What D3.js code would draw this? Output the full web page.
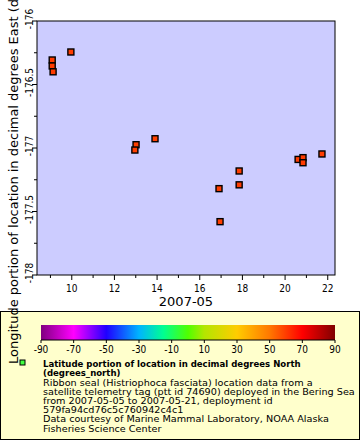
<!DOCTYPE html>
<html><head><meta charset="utf-8">
<script src="https://cdn.jsdelivr.net/npm/d3@7"></script>
<style>body{margin:0;background:#fff}svg{display:block}text{font-family:"DejaVu Sans",sans-serif}.cd{font-family:"DejaVu Sans Condensed","DejaVu Sans",sans-serif}</style>
</head><body><svg id="c" width="360" height="440"></svg>
<script>
// data
const times = ["2007-05-09T02:00Z","2007-05-09T02:00Z","2007-05-09T03:00Z","2007-05-09T23:00Z",
  "2007-05-13T00:20Z","2007-05-12T23:00Z","2007-05-13T21:40Z","2007-05-16T21:40Z","2007-05-16T22:50Z",
  "2007-05-17T20:20Z","2007-05-17T20:20Z","2007-05-20T14:40Z","2007-05-20T20:10Z","2007-05-20T20:10Z","2007-05-21T17:30Z"];
const lons = [-176.307,-176.354,-176.40,-176.244,-176.974,-177.016,-176.927,-177.32,-177.58,
  -177.181,-177.29,-177.09,-177.076,-177.116,-177.047];
const lats = [60.2,60.1,60.0,59.8,59.6,59.5,59.4,59.9,59.7,59.6,59.8,60.1,60.0,60.2,59.9];
const yTicks = [-176,-176.5,-177,-177.5,-178];
const xTickDays = [10,12,14,16,18,20,22];
const cbTicks = [-90,-70,-50,-30,-10,10,30,50,70,90];
const cbStops = [[-90,"#800080"],[-70,"#ff00ff"],[-50,"#2000ff"],[-30,"#00b4ff"],[-15,"#00ff90"],[0,"#50ff00"],[10,"#b4e600"],[30,"#ffcc00"],[50,"#ff7800"],[70,"#ff0000"],[90,"#800000"]];
const legendBold = ["Latitude portion of location in decimal degrees North","(degrees_north)"];
const legendLines = ["Ribbon seal (Histriophoca fasciata) location data from a",
  "satellite telemetry tag (ptt id 74690) deployed in the Bering Sea",
  "from 2007-05-05 to 2007-05-21, deployment id",
  "579fa94cd76c5c760942c4c1",
  "Data courtesy of Marine Mammal Laboratory, NOAA Alaska",
  "Fisheries Science Center"];

const svg = d3.select("#c");
const L=37,R=335,T=21,B=275;
const parse = d3.isoParse;
const x = d3.scaleUtc().domain([parse("2007-05-08T08:53Z"),parse("2007-05-22T08:10Z")]).range([L,R]);
const y = d3.scaleLinear().domain([-178,-176]).range([B,T]);
const color = d3.scaleLinear().domain(cbStops.map(d=>d[0])).range(cbStops.map(d=>d[1])).clamp(true);

svg.append("rect").attr("x",L).attr("y",T).attr("width",R-L).attr("height",B-T).attr("fill","#ccccff").attr("stroke","#000").attr("stroke-width",1);

// y axis
const yMinor = d3.range(-178,-175.99,0.25);
svg.append("g").selectAll("line").data(yMinor).join("line")
  .attr("x1",L).attr("x2",d=>Math.abs(d*2-Math.round(d*2))<1e-6?L-5:L-3)
  .attr("y1",d=>y(d)).attr("y2",d=>y(d)).attr("stroke","#000");
svg.append("g").selectAll("text").data(yTicks).join("text").attr("class","cd")
  .attr("transform",d=>`translate(33,${y(d)-2}) rotate(-90)`).attr("text-anchor","middle")
  .attr("font-size",10).text(d=>d);

// x axis
const xMinor = d3.range(9,23).map(d=>new Date(Date.UTC(2007,4,d)));
svg.append("g").selectAll("line").data(xMinor).join("line")
  .attr("x1",d=>x(d)).attr("x2",d=>x(d)).attr("y1",B)
  .attr("y2",d=>d.getUTCDate()%2===0?B+5:B+3).attr("stroke","#000");
svg.append("g").selectAll("text").data(xTickDays).join("text").attr("class","cd")
  .attr("x",d=>x(new Date(Date.UTC(2007,4,d)))).attr("y",291.5).attr("text-anchor","middle")
  .attr("font-size",10).text(d=>d);
svg.append("text").attr("x",186).attr("y",306).attr("text-anchor","middle").attr("font-size",13).text("2007-05");

// points
svg.append("g").selectAll("rect").data(times.map((t,i)=>({t:parse(t),lon:lons[i],lat:lats[i]}))).join("rect")
  .attr("x",d=>x(d.t)-3).attr("y",d=>y(d.lon)-3).attr("width",6).attr("height",6)
  .attr("fill",d=>color(d.lat)).attr("stroke","#000").attr("stroke-width",1.4);

// legend
svg.append("rect").attr("x",0.5).attr("y",311.5).attr("width",359).attr("height",128).attr("fill","#ffffcc").attr("stroke","#000");
const cbL=41,cbR=335,cbT=325,cbB=340;
const cx = d3.scaleLinear().domain([-90,90]).range([cbL,cbR]);
const grad = svg.append("defs").append("linearGradient").attr("id","g");
cbStops.forEach(s=>grad.append("stop").attr("offset",(s[0]+90)/180).attr("stop-color",s[1]));
svg.append("rect").attr("x",cbL).attr("y",cbT).attr("width",cbR-cbL).attr("height",cbB-cbT).attr("fill","url(#g)");
svg.append("line").attr("x1",cbL).attr("x2",cbR).attr("y1",cbB).attr("y2",cbB).attr("stroke","#000");
svg.append("g").selectAll("line").data(cbTicks).join("line")
  .attr("x1",d=>cx(d)).attr("x2",d=>cx(d)).attr("y1",cbB).attr("y2",cbB+3).attr("stroke","#000");
svg.append("g").selectAll("text").data(cbTicks).join("text").attr("class","cd")
  .attr("x",d=>cx(d)).attr("y",353).attr("text-anchor","middle").attr("font-size",10).text(d=>d);

svg.append("rect").attr("x",20).attr("y",360).attr("width",5).attr("height",5).attr("fill","#40ff40").attr("stroke","#000");

function fitGroup(sel, idx, target){
  const w = sel.nodes()[idx].getComputedTextLength();
  const k = target / w;
  sel.attr("transform", function(){ const yy=+this.getAttribute("data-y"); return `translate(43,${yy}) scale(${k},1)`; });
}
const bold = svg.append("g").selectAll("text").data(legendBold).join("text")
  .attr("data-y",(d,i)=>367+i*9.2).attr("font-size",9.5).attr("font-weight","bold").text(d=>d);
fitGroup(bold,0,258);
const norm = svg.append("g").selectAll("text").data(legendLines).join("text")
  .attr("data-y",(d,i)=>385.5+i*9.2).attr("font-size",9.5).text(d=>d);
fitGroup(norm,1,312);

// y title (drawn over the legend, as in the reference)
svg.append("text").attr("transform","translate(18,364) rotate(-90)").attr("font-size",13)
  .text("Longitude portion of location in decimal degrees East (degrees_east)");
</script></body></html>
